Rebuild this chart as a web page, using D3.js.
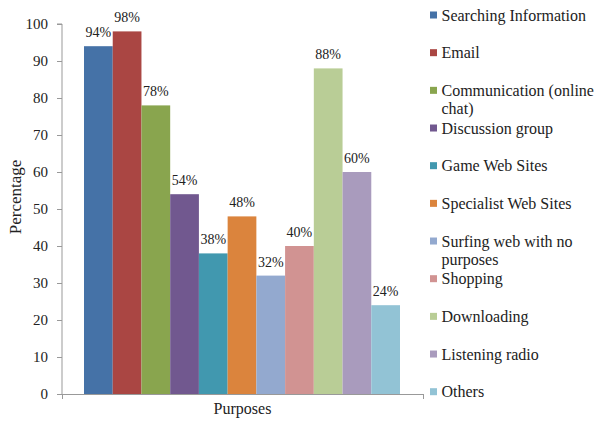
<!DOCTYPE html>
<html><head><meta charset="utf-8">
<script src="https://cdn.jsdelivr.net/npm/d3@7"></script>
<style>body{margin:0;background:#fff}svg{display:block}</style>
</head><body><svg id="c" width="596" height="423"></svg>
<script>
const categories = ["Searching Information","Email","Communication (online chat)","Discussion group","Game Web Sites","Specialist Web Sites","Surfing web with no purposes","Shopping","Downloading","Listening radio","Others"];
const legendLines = [["Searching Information"],["Email"],["Communication (online","chat)"],["Discussion group"],["Game Web Sites"],["Specialist Web Sites"],["Surfing web with no","purposes"],["Shopping"],["Downloading"],["Listening radio"],["Others"]];
const values = [94,98,78,54,38,48,32,40,88,60,24];
const colors = ["#4572A7","#AA4643","#89A54E","#71588F","#4198AF","#DB843D","#93A9CF","#D19392","#B9CD96","#A99BBD","#92C3D5"];
const yTicks = [0,10,20,30,40,50,60,70,80,90,100];
const FONT = "'Liberation Serif', 'Times New Roman', serif";

const svg = d3.select("#c").style("font-family", FONT);
const x0 = 62, x1 = 423, yTop = 24, yBot = 394;
const y = d3.scaleLinear().domain([0,100]).range([yBot,yTop]);
const x = d3.scaleBand().domain(categories).range([x0+22, x1-23]).padding(0);

const yAxis = svg.append("g").attr("transform",`translate(${x0},0)`)
  .call(d3.axisLeft(y).tickValues(yTicks).tickSize(5).tickPadding(9));
yAxis.attr("font-family", null);
yAxis.select(".domain").attr("stroke","#999").attr("d",`M-5,${yTop}H0V${yBot}`);
yAxis.selectAll(".tick line").attr("stroke","#999");
yAxis.selectAll("text").style("font-size","15px").style("font-family",FONT).attr("fill","#222");

svg.append("line").attr("x1",x0).attr("x2",x1).attr("y1",yBot+0.5).attr("y2",yBot+0.5).attr("stroke","#999");
[x0,x1].forEach(v=>svg.append("line").attr("x1",v+0.5).attr("x2",v+0.5).attr("y1",yBot).attr("y2",yBot+5).attr("stroke","#999"));

svg.append("g").selectAll("rect").data(values).join("rect")
  .attr("x",(d,i)=>x(categories[i])).attr("width",x.bandwidth())
  .attr("y",d=>y(d)).attr("height",d=>yBot-y(d))
  .attr("fill",(d,i)=>colors[i]);

svg.append("g").selectAll("text").data(values).join("text")
  .attr("x",(d,i)=>x(categories[i])+x.bandwidth()/2).attr("y",d=>y(d)-9)
  .attr("text-anchor","middle").style("font-size","14px").style("font-family",FONT).attr("fill","#222").text(d=>d+"%");

svg.append("text").attr("transform",`translate(21,197) rotate(-90)`)
  .attr("text-anchor","middle").style("font-size","17px").style("font-family",FONT).attr("fill","#222").text("Percentage");
svg.append("text").attr("x",242.5).attr("y",414).attr("text-anchor","middle").style("font-size","16px").style("font-family",FONT).attr("fill","#222").text("Purposes");

const lg = svg.append("g");
const rowY = d3.scaleLinear().domain([0,10]).range([15,391.7]);
legendLines.forEach((lines,i)=>{
  const cy = rowY(i);
  lg.append("rect").attr("x",430).attr("y",cy-3.5).attr("width",7).attr("height",7).attr("fill",colors[i]);
  lines.forEach((t,j)=>lg.append("text").attr("x",441.5).attr("y",cy+5.5+j*18.5).style("font-size","16px").style("font-family",FONT).attr("fill","#222").text(t));
});
</script></body></html>
